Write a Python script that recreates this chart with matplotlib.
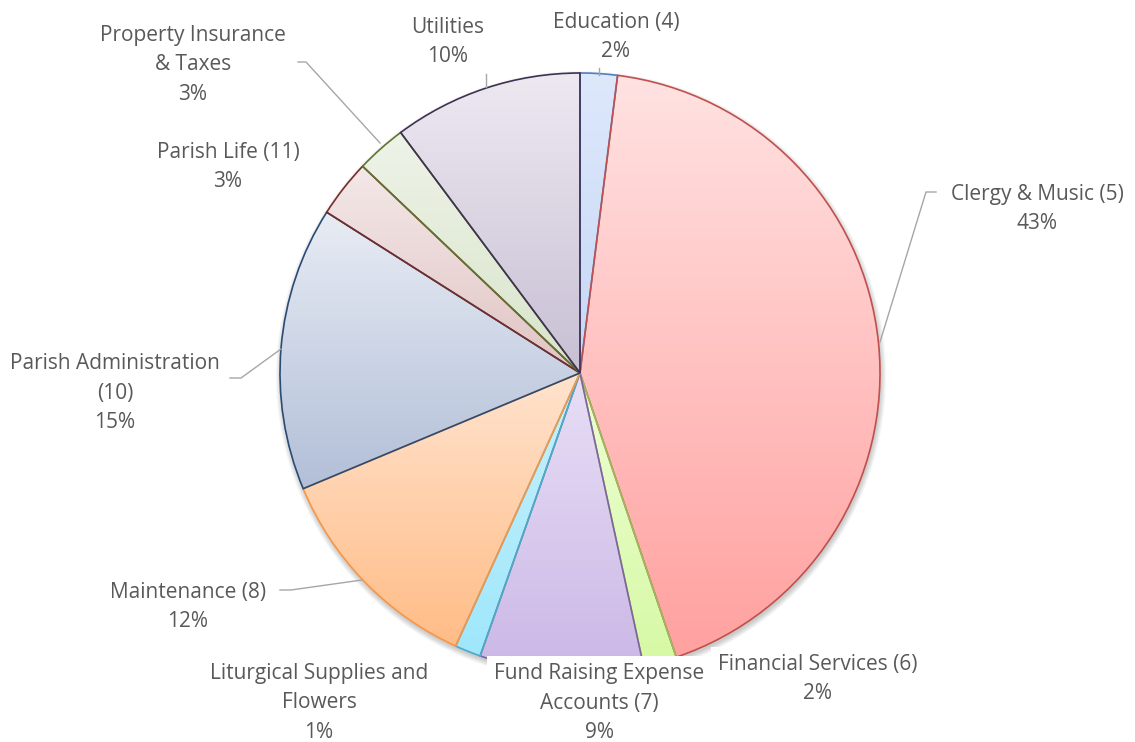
import matplotlib.pyplot as plt
import numpy as np
from matplotlib.colors import to_rgb
from matplotlib.patches import Circle

# slices, clockwise from 12 o'clock
labels = ["Education (4)", "Clergy & Music (5)", "Financial Services (6)",
          "Fund Raising Expense\nAccounts (7)", "Liturgical Supplies and\nFlowers",
          "Maintenance (8)", "Parish Administration\n(10)", "Parish Life (11)",
          "Property Insurance\n& Taxes", "Utilities"]
values = [2.0, 42.8, 1.8, 8.8, 1.4, 11.9, 15.3, 3.1, 2.7, 10.2]

# gradient top / bottom and outline colour of each slice
top_colors = ["#DDE8FB", "#FFE2E2", "#EDFFD6", "#E8DFF6", "#C8F1FC",
              "#FFE3CE", "#E8ECF4", "#F4E8E8", "#EEF3E8", "#EDE9F1"]
bottom_colors = ["#C6D8F6", "#FFA19F", "#D6F9A4", "#CBB7E6", "#9FE7FB",
                 "#FFBC86", "#B2BFD8", "#E1C4C4", "#D8E4CA", "#C8BFD4"]
edge_colors = ["#4F81BD", "#C0504D", "#9BBB59", "#8064A2", "#4BACC6",
               "#F79646", "#2A4B74", "#772C2A", "#5F7530", "#3F3151"]

W, H = 1135, 742
def Y(py):
    return H - py

fig = plt.figure(figsize=(W / 100, H / 100), dpi=100)
ax = fig.add_axes([0, 0, 1, 1])

cx, cy, R = 580, Y(373), 300

# soft shadow under the pie
for k in range(6):
    ax.add_patch(Circle((cx + 1, cy - 3), R + 5 - k, facecolor="black",
                        edgecolor="none", alpha=0.035, zorder=0.5))

wedges, _ = ax.pie(values, startangle=90, counterclock=False, center=(cx, cy),
                   radius=R, wedgeprops=dict(linewidth=1.2))

for w, c1, c2, ec in zip(wedges, top_colors, bottom_colors, edge_colors):
    th = np.radians(np.linspace(w.theta1, w.theta2, 200))
    xs = np.append(cx + R * np.cos(th), cx)
    ys = np.append(cy + R * np.sin(th), cy)
    t = np.linspace(0, 1, 256)[:, None]
    img = (1 - t) * np.array(to_rgb(c1)) + t * np.array(to_rgb(c2))
    im = ax.imshow(img[:, None, :], extent=[xs.min(), xs.max(), ys.min(), ys.max()],
                   origin="upper", interpolation="bilinear", aspect="auto", zorder=1)
    im.set_clip_path(w)
    w.set_facecolor("none")
    w.set_edgecolor(ec)
    w.set_zorder(2)

# label centres (pixels) and leader lines
pos = [(616, 37), (1037, 209), (818, 679), (599, 703), (319, 703),
       (188, 607), (115, 393), (228, 167), (193, 65), (448, 42)]
leaders = {
    0: [(599, 68), (599, 75)],
    1: [(936, 192), (926, 192), (880, 342)],
    5: [(280, 590), (291, 590), (362, 580)],
    6: [(230, 378), (241, 378), (281, 349)],
    8: [(298, 62), (306, 62), (380, 143)],
    9: [(486, 74), (486, 87)],
}
for i, pts in leaders.items():
    ax.plot([p[0] for p in pts], [Y(p[1]) for p in pts], color="#A6A6A6",
            lw=1.0, zorder=3)

for i, (name, v) in enumerate(zip(labels, values)):
    x, y = pos[i]
    box = None
    if i in (2, 3):
        box = dict(facecolor="white", edgecolor="none", pad=5)
    ax.text(x, Y(y), f"{name}\n{round(v):.0f}%", ha="center", va="center",
            fontsize=15, color="#595959", family=["Open Sans", "DejaVu Sans"],
            linespacing=1.55, bbox=box, zorder=4)

ax.set_xlim(0, W)
ax.set_ylim(0, H)
ax.set_aspect("equal")
ax.axis("off")
fig.savefig("out.png", dpi=100, facecolor="white")
